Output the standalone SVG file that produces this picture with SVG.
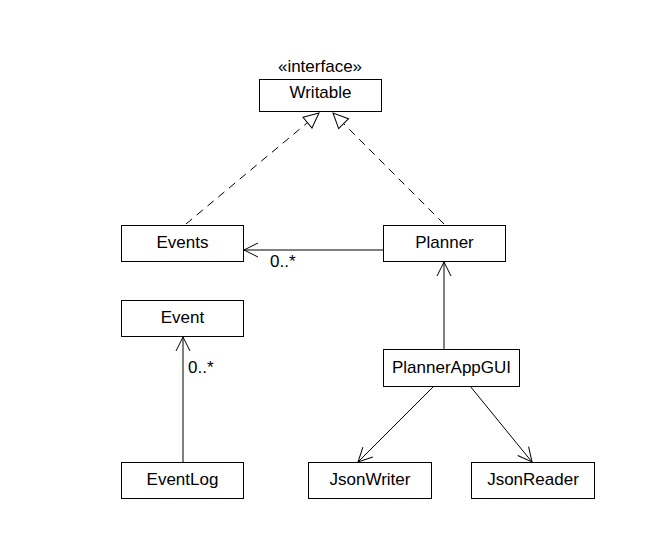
<svg xmlns="http://www.w3.org/2000/svg" width="668" height="552" viewBox="0 0 668 552">
<defs>
<style>
.box{fill:#fff;stroke:#000;stroke-width:1}
.t{font-family:"Liberation Sans",Arial,sans-serif;font-size:17px;fill:#000;text-anchor:middle}
.l{font-family:"Liberation Sans",Arial,sans-serif;font-size:17px;fill:#000}
.c{stroke:#000;stroke-width:1;fill:none}
.d{stroke-dasharray:8,6}
</style>
<marker id="open" markerWidth="16" markerHeight="16" refX="15" refY="8" orient="auto" markerUnits="userSpaceOnUse">
<path d="M1,1 L15,8 L1,15" fill="none" stroke="#000" stroke-width="1"/>
</marker>
<marker id="tri" markerWidth="18" markerHeight="18" refX="16" refY="9" orient="auto" markerUnits="userSpaceOnUse">
<path d="M1,2 L16,9 L1,16 Z" fill="#fff" stroke="#000" stroke-width="1"/>
</marker>
</defs>
<rect width="668" height="552" fill="#fff"/>
<g id="connectors">
<line class="c d" x1="186" y1="224" x2="319" y2="113" marker-end="url(#tri)"/>
<line class="c d" x1="444" y1="224" x2="333" y2="113" marker-end="url(#tri)"/>
<line class="c" x1="383" y1="250" x2="244" y2="250" marker-end="url(#open)"/>
<text class="l" x="270" y="267">0..*</text>
<line class="c" x1="444" y1="349" x2="444" y2="262" marker-end="url(#open)"/>
<line class="c" x1="183" y1="462" x2="183" y2="337" marker-end="url(#open)"/>
<text class="l" x="188" y="373">0..*</text>
<line class="c" x1="434" y1="386" x2="358" y2="462" marker-end="url(#open)"/>
<line class="c" x1="470" y1="386" x2="532" y2="462" marker-end="url(#open)"/>
</g>
<g id="writable">
<text class="t" x="320" y="72">«interface»</text>
<rect class="box" x="259.5" y="79.5" width="122" height="32"/>
<text class="t" x="320.5" y="98">Writable</text>
</g>
<g id="events">
<rect class="box" x="121.5" y="225.5" width="122" height="36"/>
<text class="t" x="182.5" y="248">Events</text>
</g>
<g id="planner">
<rect class="box" x="383.5" y="225.5" width="122" height="36"/>
<text class="t" x="444.5" y="248">Planner</text>
</g>
<g id="event">
<rect class="box" x="121.5" y="300.5" width="122" height="36"/>
<text class="t" x="182.5" y="323">Event</text>
</g>
<g id="eventlog">
<rect class="box" x="121.5" y="462.5" width="122" height="36"/>
<text class="t" x="182.5" y="485">EventLog</text>
</g>
<g id="plannerappgui">
<rect class="box" x="383.5" y="349.5" width="136" height="37"/>
<text class="t" x="451.5" y="373">PlannerAppGUI</text>
</g>
<g id="jsonwriter">
<rect class="box" x="308.5" y="462.5" width="123" height="36"/>
<text class="t" x="370" y="485">JsonWriter</text>
</g>
<g id="jsonreader">
<rect class="box" x="471.5" y="462.5" width="123" height="36"/>
<text class="t" x="533" y="485">JsonReader</text>
</g>
</svg>
